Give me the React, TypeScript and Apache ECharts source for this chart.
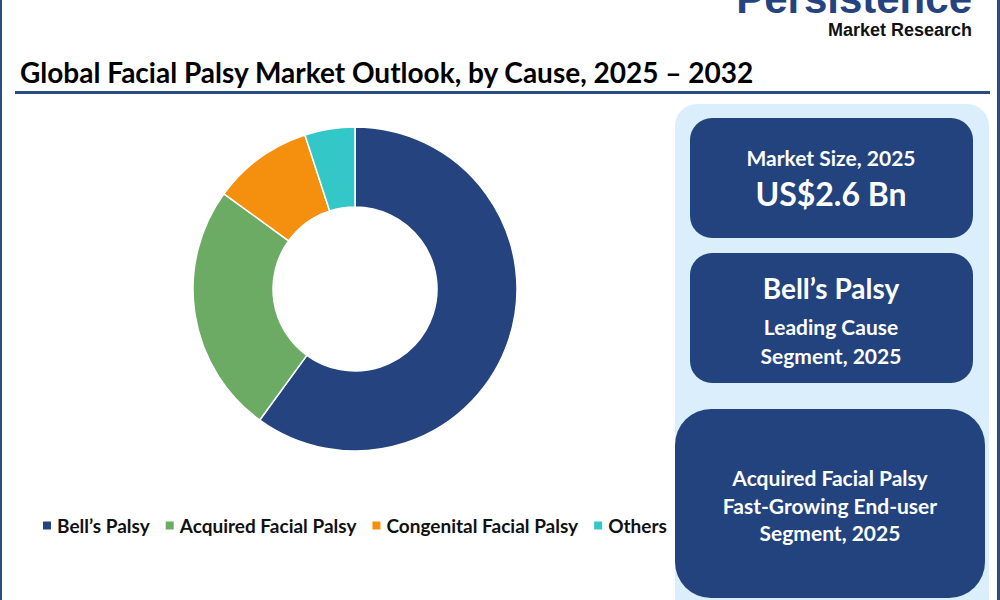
import React, { useEffect, useRef } from "react";
import * as echarts from "echarts";

const categories = ["Bell’s Palsy", "Acquired Facial Palsy", "Congenital Facial Palsy", "Others"];
const shares = [60, 25, 10, 5];
const colors = ["#25447F", "#6BAB63", "#F4900E", "#33C7C7"];

const titleText = "Global Facial Palsy Market Outlook, by Cause, 2025 – 2032";
const box1Lines = ["Market Size, 2025", "US$2.6 Bn"];
const box2Lines = ["Bell’s Palsy", "Leading Cause", "Segment, 2025"];
const box3Lines = ["Acquired Facial Palsy", "Fast-Growing End-user", "Segment, 2025"];

const FONT = "Lato, 'Open Sans', sans-serif";
const LOGO_FONT = "'Liberation Sans', Arial, sans-serif";
const BOX = "#23437F";
const PANEL = "#DAEEFB";

export default function App() {
  const ref = useRef<HTMLDivElement>(null);
  useEffect(() => {
    document.body.style.margin = "0";
    const chart = echarts.init(ref.current!, null, { renderer: "svg" });
    const txt = (x: number, y: number, text: string, size: number, fill = "#fff", align = "center") => ({
      type: "text",
      x,
      y,
      style: { text, fontSize: size, fontWeight: "bold", fontFamily: FONT, fill, align, verticalAlign: "middle" },
    });
    chart.setOption({
      animation: false,
      backgroundColor: "#ffffff",
      legend: {
        data: categories,
        left: 36,
        top: 511,
        icon: "rect",
        itemWidth: 10,
        itemHeight: 10,
        itemGap: 14,
        textStyle: { fontSize: 19, fontWeight: "bold", fontFamily: FONT, color: "#111" },
      },
      graphic: [
        { type: "rect", shape: { x: 0, y: 0, width: 2, height: 600 }, style: { fill: "#2B4C7E" } },
        { type: "rect", shape: { x: 997, y: 0, width: 3, height: 600 }, style: { fill: "#2B4C7E" } },
        { type: "rect", shape: { x: 15, y: 91, width: 975, height: 3 }, style: { fill: "#2B4C7E" } },
        txt(20, 72, titleText, 28, "#000", "left"),
        {
          type: "text",
          x: 972,
          y: 19,
          style: { text: "Persistence", fontSize: 42, fontWeight: 900, fontFamily: LOGO_FONT, fill: "#25447F", align: "right", verticalAlign: "bottom" },
        },
        {
          type: "text",
          x: 972,
          y: 30,
          style: { text: "Market Research", fontSize: 18, fontWeight: "bold", fontFamily: LOGO_FONT, fill: "#111", align: "right", verticalAlign: "middle" },
        },
        { type: "rect", shape: { x: 675, y: 104, width: 314, height: 520, r: 22 }, style: { fill: PANEL } },
        { type: "rect", shape: { x: 690, y: 118, width: 283, height: 120, r: 22 }, style: { fill: BOX } },
        { type: "rect", shape: { x: 690, y: 253, width: 283, height: 130, r: 22 }, style: { fill: BOX } },
        { type: "rect", shape: { x: 675, y: 409, width: 310, height: 189, r: 36 }, style: { fill: BOX } },
        txt(831, 157, box1Lines[0], 21),
        txt(831, 193, box1Lines[1], 32),
        txt(831, 288, box2Lines[0], 28),
        txt(831, 326, box2Lines[1], 21),
        txt(831, 355, box2Lines[2], 21),
        txt(830, 477, box3Lines[0], 21),
        txt(830, 505, box3Lines[1], 21),
        txt(830, 532, box3Lines[2], 21),
      ],
      series: [
        {
          type: "pie",
          center: [355, 289],
          radius: [82, 162],
          startAngle: 90,
          clockwise: true,
          label: { show: false },
          labelLine: { show: false },
          emphasis: { disabled: true },
          itemStyle: { borderColor: "#fff", borderWidth: 1.5 },
          data: categories.map((name, i) => ({ name, value: shares[i], itemStyle: { color: colors[i] } })),
        },
      ],
    });
    return () => chart.dispose();
  }, []);
  return <div ref={ref} style={{ width: 1000, height: 600 }} />;
}
